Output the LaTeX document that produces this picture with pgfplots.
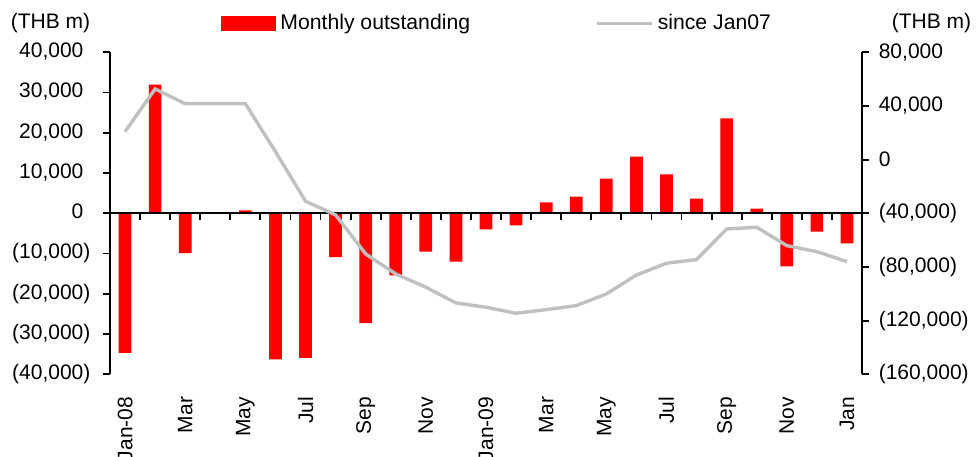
\documentclass[border=0pt]{standalone}
\usepackage{fontspec}
\setmainfont{Liberation Sans}
\usepackage{pgfplots}
\pgfplotsset{compat=1.18}
\definecolor{barred}{RGB}{255,0,0}
\definecolor{linegray}{RGB}{192,192,192}
\begin{document}
\fontsize{10.5}{12.5}\selectfont
\begin{tikzpicture}
\useasboundingbox (-55pt,-40.85pt) rectangle (435pt,187.15pt);
% bars, left axis
\begin{axis}[
  at={(0,0)}, anchor=south west,
  scale only axis, width=376pt, height=161pt,
  xmin=-0.5, xmax=24.5, ymin=-40000, ymax=40000,
  scaled y ticks=false,
  axis y line*=left, axis x line*=middle,
  axis line style={line width=0.9pt, black},
  every tick/.style={black, line width=0.9pt},
  tick align=outside, major tick length=3.3pt,
  xtick={0.5,1.5,...,24.5}, xticklabels={},
  ytick={-40000,-30000,...,40000},
  yticklabels={{(40,000)},{(30,000)},{(20,000)},{(10,000)},{0\phantom{)}},{10,000\phantom{)}},{20,000\phantom{)}},{30,000\phantom{)}},{40,000\phantom{)}}},
  yticklabel style={anchor=east, inner sep=0pt, font=\fontsize{10.5}{12.5}\selectfont},
  yticklabel shift=6.3pt,
  axis on top,
  legend style={at={(0,1)}, anchor=west, xshift=55.5pt, yshift=14.5pt, draw=none, fill=none, inner sep=0pt, font=\fontsize{10.6}{12.5}\selectfont},
  legend image code/.code={\fill[barred] (0pt,-3.65pt) rectangle (27.5pt,3.65pt);},
]
\addplot[ybar, bar width=6.35pt, fill=barred, draw=none] coordinates {
(0,-34700) (1,32000) (2,-9900) (3,0) (4,750) (5,-36300) (6,-35900) (7,-10900)
(8,-27300) (9,-15400) (10,-9500) (11,-12000) (12,-4000) (13,-3000) (14,2700)
(15,4150) (16,8600) (17,14100) (18,9700) (19,3650) (20,23600) (21,1150)
(22,-13200) (23,-4550) (24,-7500)
};
\addlegendentry{Monthly outstanding}
\end{axis}
% line, right axis
\begin{axis}[
  at={(0,0)}, anchor=south west,
  scale only axis, width=376pt, height=161pt,
  xmin=-0.5, xmax=24.5, ymin=-160000, ymax=80000,
  scaled y ticks=false,
  axis y line*=right, axis x line*=bottom,
  x axis line style={draw=none},
  y axis line style={line width=0.9pt, black},
  ytick style={black, line width=0.9pt},
  xtick style={draw=none},
  tick align=outside, major tick length=3.3pt,
  xtick={0,2,...,24},
  xticklabels={Jan-08,Mar,May,Jul,Sep,Nov,Jan-09,Mar,May,Jul,Sep,Nov,Jan},
  xticklabel style={rotate=90, anchor=east, inner sep=0pt, font=\fontsize{10.5}{12.5}\selectfont},
  xticklabel shift=7.8pt,
  ytick={-160000,-120000,...,80000},
  yticklabels={{(160,000)},{(120,000)},{(80,000)},{(40,000)},{0},{40,000},{80,000}},
  yticklabel style={anchor=west, inner sep=0pt, font=\fontsize{10.5}{12.5}\selectfont},
  yticklabel shift=4.9pt,
  legend style={at={(0,1)}, anchor=west, xshift=242.5pt, yshift=14.5pt, draw=none, fill=none, inner sep=0pt, font=\fontsize{10.6}{12.5}\selectfont},
  legend image code/.code={\draw[linegray, line width=1.7pt] (0pt,0pt) -- (27.5pt,0pt);},
]
\addplot[linegray, line width=1.7pt, mark=none] coordinates {
(0,20900) (1,52700) (2,41700) (3,41700) (4,41700) (5,6000) (6,-31000) (7,-41200)
(8,-70300) (9,-85200) (10,-95100) (11,-106800) (12,-110000) (13,-114500)
(14,-111800) (15,-108800) (16,-100100) (17,-86000) (18,-77200) (19,-74500)
(20,-51700) (21,-50400) (22,-64100) (23,-68600) (24,-76000)
};
\addlegendentry{since Jan07}
\end{axis}
\node[anchor=center, inner sep=0pt] at (-29.75pt,175.8pt) {(THB m)};
\node[anchor=center, inner sep=0pt] at (410.75pt,175.8pt) {(THB m)};
\end{tikzpicture}
\end{document}
